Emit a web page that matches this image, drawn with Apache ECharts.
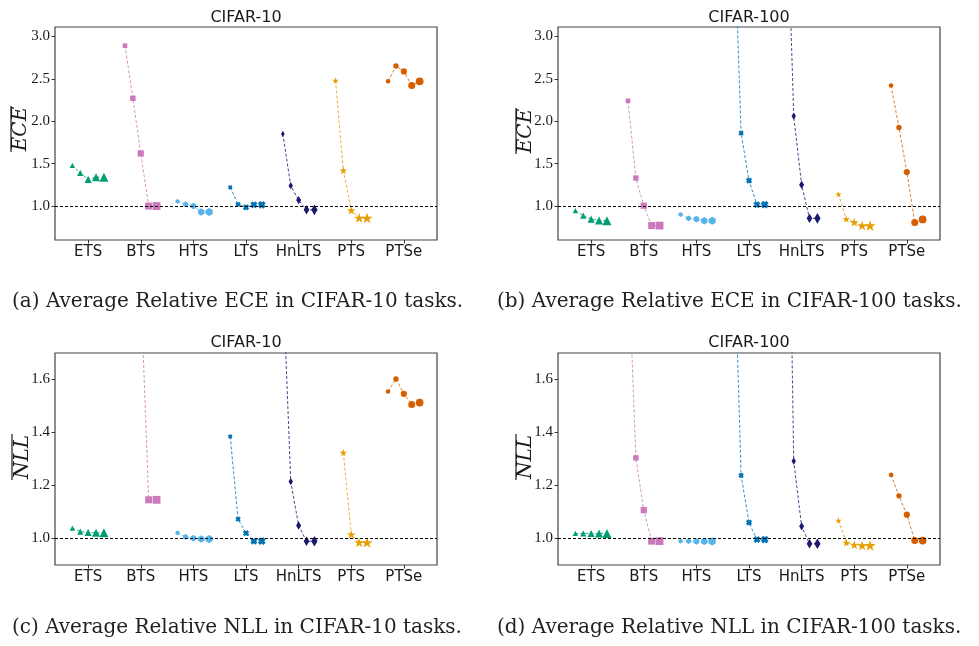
<!DOCTYPE html>
<html><head><meta charset="utf-8">
<script src="https://cdn.jsdelivr.net/npm/echarts@6/dist/echarts.min.js"></script>
<style>html,body{margin:0;padding:0;background:#fff}#c{width:979px;height:646px}</style>
</head><body><div id="c"></div>
<script>
// ---------------- data ----------------
const methods = ['ETS', 'BTS', 'HTS', 'LTS', 'HnLTS', 'PTS', 'PTSe'];
const eceTicks = [1.0, 1.5, 2.0, 2.5, 3.0];
const nllTicks = [1.0, 1.2, 1.4, 1.6];
const titles = ['CIFAR-10', 'CIFAR-100', 'CIFAR-10', 'CIFAR-100'];
const captions = [
  '(a) Average Relative ECE in CIFAR-10 tasks.',
  '(b) Average Relative ECE in CIFAR-100 tasks.',
  '(c) Average Relative NLL in CIFAR-10 tasks.',
  '(d) Average Relative NLL in CIFAR-100 tasks.'
];
// values per method (rows: ETS, BTS, HTS, LTS, HnLTS, PTS, PTSe), 5 runs each
const eceCifar10 = [
  [1.48, 1.39, 1.315, 1.34, 1.34],
  [2.89, 2.27, 1.62, 1.0, 1.0],
  [1.055, 1.02, 1.0, 0.93, 0.93],
  [1.22, 1.02, 0.985, 1.015, 1.015],
  [1.85, 1.24, 1.07, 0.955, 0.955],
  [2.48, 1.42, 0.95, 0.86, 0.86],
  [2.47, 2.65, 2.587, 2.42, 2.47]
];
const eceCifar100 = [
  [0.945, 0.886, 0.846, 0.83, 0.827],
  [2.24, 1.33, 1.004, 0.77, 0.77],
  [0.9, 0.854, 0.846, 0.827, 0.827],
  [4.6, 1.86, 1.30, 1.016, 1.016],
  [5.1, 2.06, 1.25, 0.855, 0.855],
  [1.14, 0.846, 0.81, 0.77, 0.77],
  [2.42, 1.925, 1.40, 0.807, 0.843]
];
const nllCifar10 = [
  [1.039, 1.026, 1.023, 1.022, 1.022],
  [3.2, 2.4, 1.95, 1.146, 1.146],
  [1.021, 1.006, 1.001, 0.998, 0.998],
  [1.385, 1.073, 1.02, 0.99, 0.99],
  [1.99, 1.215, 1.049, 0.99, 0.99],
  [null, 1.324, 1.015, 0.985, 0.985],
  [1.555, 1.602, 1.546, 1.506, 1.513]
];
const nllCifar100 = [
  [1.019, 1.019, 1.019, 1.019, 1.019],
  [2.09, 1.304, 1.107, 0.99, 0.99],
  [0.99, 0.99, 0.989, 0.989, 0.989],
  [2.24, 1.238, 1.06, 0.996, 0.996],
  [3.2, 1.292, 1.046, 0.98, 0.98],
  [1.068, 0.984, 0.976, 0.974, 0.974],
  [1.24, 1.161, 1.09, 0.992, 0.992]
];

// ---------------- styles / layout ----------------
const colors = ['#029e73', '#cc78bc', '#56b4e9', '#0173b2', '#191970', '#e69f00', '#d55e00'];
const shapes = [
  'triangle',
  'rect',
  'path://M0,-1 L0.866,-0.5 L0.866,0.5 L0,1 L-0.866,0.5 L-0.866,-0.5 Z',
  'path://M-0.4,-1 L0,-0.6 L0.4,-1 L1,-0.4 L0.6,0 L1,0.4 L0.4,1 L0,0.6 L-0.4,1 L-1,0.4 L-0.6,0 L-1,-0.4 Z',
  'path://M0,-1 L0.6,0 L0,1 L-0.6,0 Z',
  'path://M0,-1 L0.2245,-0.309 L0.951,-0.309 L0.363,0.118 L0.588,0.809 L0,0.382 L-0.588,0.809 L-0.363,0.118 L-0.951,-0.309 L-0.2245,-0.309 Z',
  'circle'
];
const shapeScale = [1.15, 1.0, 1.05, 1.0, 1.35, 1.45, 1.0];
const runSizes = [4.6, 5.4, 6.2, 7.0, 7.8];
const runOffset = 0.15;

const panels = [
  { grid: { left: 55, top: 27, width: 382, height: 213 }, min: 0.6, max: 3.11, ticks: eceTicks, data: eceCifar10, ylab: 'ECE', ylabX: 21, olX: 11, ylabY: 129, titleY: 18, capX: 12, capY: 302 },
  { grid: { left: 558, top: 27, width: 382, height: 213 }, min: 0.6, max: 3.11, ticks: eceTicks, data: eceCifar100, ylab: 'ECE', ylabX: 526, olX: 516, ylabY: 131, titleY: 18, capX: 497, capY: 302 },
  { grid: { left: 55, top: 353, width: 382, height: 212 }, min: 0.9, max: 1.7, ticks: nllTicks, data: nllCifar10, ylab: 'NLL', ylabX: 23, olX: 12, ylabY: 457, titleY: 343, capX: 12, capY: 628 },
  { grid: { left: 558, top: 353, width: 382, height: 212 }, min: 0.9, max: 1.7, ticks: nllTicks, data: nllCifar100, ylab: 'NLL', ylabX: 526, olX: 516, ylabY: 457, titleY: 343, capX: 497, capY: 628 }
];

const catIdx = methods.map((_, i) => i);
const grids = [], xAxes = [], yAxes = [], series = [], graphics = [];

panels.forEach((p, pi) => {
  grids.push(Object.assign({ show: true, borderColor: '#444', borderWidth: 1.2, backgroundColor: '#fff' }, p.grid));
  xAxes.push({
    type: 'value', gridIndex: pi, min: -0.63, max: 6.63, position: 'bottom',
    axisLine: { show: false, onZero: false }, splitLine: { show: false },
    axisTick: { show: true, length: 3.5, customValues: catIdx, lineStyle: { color: '#333' } },
    axisLabel: { customValues: catIdx, formatter: v => methods[Math.round(v)], fontFamily: 'DejaVu Sans', fontSize: 15, color: '#1a1a1a', margin: 5 }
  });
  yAxes.push({
    type: 'value', gridIndex: pi, min: p.min, max: p.max, position: 'left',
    axisLine: { show: false, onZero: false }, splitLine: { show: false },
    axisTick: { show: true, length: 3.5, customValues: p.ticks, lineStyle: { color: '#333' } },
    axisLabel: { customValues: p.ticks, formatter: v => v.toFixed(1), fontFamily: 'Liberation Serif', fontSize: 15, color: '#1a1a1a', margin: 5 }
  });
  p.data.forEach((vals, m) => {
    const s = {
      type: 'line', xAxisIndex: pi, yAxisIndex: pi, clip: true, animation: false,
      data: vals.map((v, j) => [m + (j - 2) * runOffset, v == null ? '-' : v]),
      symbol: shapes[m], symbolKeepAspect: true, showAllSymbol: true,
      symbolSize: (val, params) => runSizes[params.dataIndex] * shapeScale[m],
      itemStyle: { color: colors[m], opacity: 1 },
      lineStyle: { color: colors[m], width: 1, type: [3, 2], opacity: 0.8 },
      emphasis: { disabled: true }, z: 3
    };
    if (m === 0) {
      s.markLine = {
        silent: true, symbol: ['none', 'none'], animation: false,
        label: { show: false },
        lineStyle: { color: '#000', type: [3, 2], width: 1 },
        data: [{ yAxis: 1.0 }]
      };
    }
    series.push(s);
  });
  const cx = p.grid.left + p.grid.width / 2;
  graphics.push({
    type: 'text', x: cx, y: p.titleY,
    style: { text: titles[pi], font: '16px "DejaVu Sans"', fill: '#1a1a1a', textAlign: 'center', textVerticalAlign: 'middle' }
  });
  graphics.push({
    type: 'text', x: p.ylabX, y: p.ylabY, rotation: Math.PI / 2,
    style: { text: p.ylab, font: 'italic 20px "DejaVu Serif"', fill: '#1a1a1a', textAlign: 'center', textVerticalAlign: 'middle' }
  });
  graphics.push({
    type: 'line', shape: { x1: p.olX, y1: p.ylabY - 23, x2: p.olX, y2: p.ylabY + 23 },
    style: { stroke: '#1a1a1a', lineWidth: 1.2 }
  });
  graphics.push({
    type: 'text', x: p.capX, y: p.capY,
    style: { text: captions[pi], font: '20px "DejaVu Serif"', fill: '#222', textAlign: 'left', textVerticalAlign: 'middle' }
  });
});

const chart = echarts.init(document.getElementById('c'), null, { renderer: 'canvas' });
chart.setOption({
  backgroundColor: '#fff',
  animation: false,
  grid: grids, xAxis: xAxes, yAxis: yAxes, series: series, graphic: graphics
});
</script>
</body></html>
